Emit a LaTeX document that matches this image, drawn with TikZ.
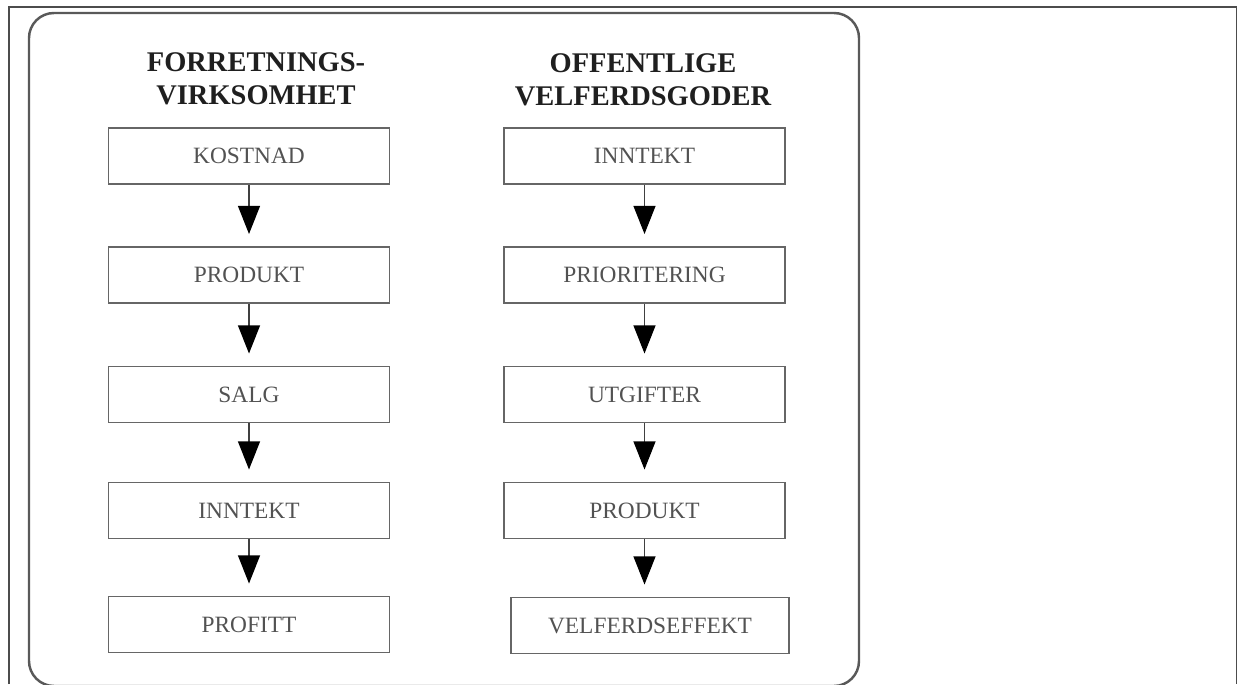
\documentclass[tikz,border=0pt]{standalone}
\usepackage{fontspec}
\setmainfont{Liberation Serif}
\usetikzlibrary{positioning, arrows.meta}

\begin{document}
\begin{tikzpicture}[
    flowarrow/.style={-{Triangle[length=16pt, width=12.5pt, black]}, draw=black!75, line width=0.7pt, shorten >=0.24cm},
    boxnode/.style={rectangle, draw=black!60, line width=1.1pt, minimum width=5.62cm, minimum height=1.12cm, inner sep=0pt, text=black!68, font=\fontsize{13.3}{15}\selectfont},
    titlenode/.style={align=center, inner sep=0pt, anchor=north, text=black!88, font=\fontsize{16.2}{18.7}\selectfont\bfseries},
]

\useasboundingbox (0,0) rectangle (24.8,13.68);

% === Outer frame (open at the bottom) ===
\draw[black!70, line width=0.8pt] (0.18,0) -- (0.18,13.54) -- (24.73,13.54) -- (24.73,0);

% === Rounded panel ===
\draw[black!65, line width=1.4pt, rounded corners=0.5cm] (0.58,-0.04) rectangle (17.18,13.42);

% === Column titles ===
\node[titlenode] (ftitle) at (5.12, 12.64) {FORRETNINGS-\\VIRKSOMHET};
\node[titlenode] (otitle) at (12.86, 12.62) {OFFENTLIGE\\VELFERDSGODER};

% === Left column: business ===
\node[boxnode] (f1) at (4.98, 10.56) {KOSTNAD};
\node[boxnode] (f2) at (4.98, 8.18) {PRODUKT};
\node[boxnode] (f3) at (4.98, 5.79) {SALG};
\node[boxnode] (f4) at (4.98, 3.47) {INNTEKT};
\node[boxnode] (f5) at (4.98, 1.19) {PROFITT};

% === Right column: public welfare goods ===
\node[boxnode] (o1) at (12.89, 10.56) {INNTEKT};
\node[boxnode] (o2) at (12.89, 8.18) {PRIORITERING};
\node[boxnode] (o3) at (12.89, 5.79) {UTGIFTER};
\node[boxnode] (o4) at (12.89, 3.47) {PRODUKT};
\node[boxnode, minimum width=5.56cm] (o5) at (13.0, 1.17) {VELFERDSEFFEKT};

% === Arrows, left ===
\draw[flowarrow] (f1) -- (f2);
\draw[flowarrow] (f2) -- (f3);
\draw[flowarrow] (f3) -- (f4);
\draw[flowarrow] (f4) -- (f5);

% === Arrows, right ===
\draw[flowarrow] (o1) -- (o2);
\draw[flowarrow] (o2) -- (o3);
\draw[flowarrow] (o3) -- (o4);
\draw[flowarrow] (o4.south) -- (o4.south |- o5.north);

\end{tikzpicture}
\end{document}
